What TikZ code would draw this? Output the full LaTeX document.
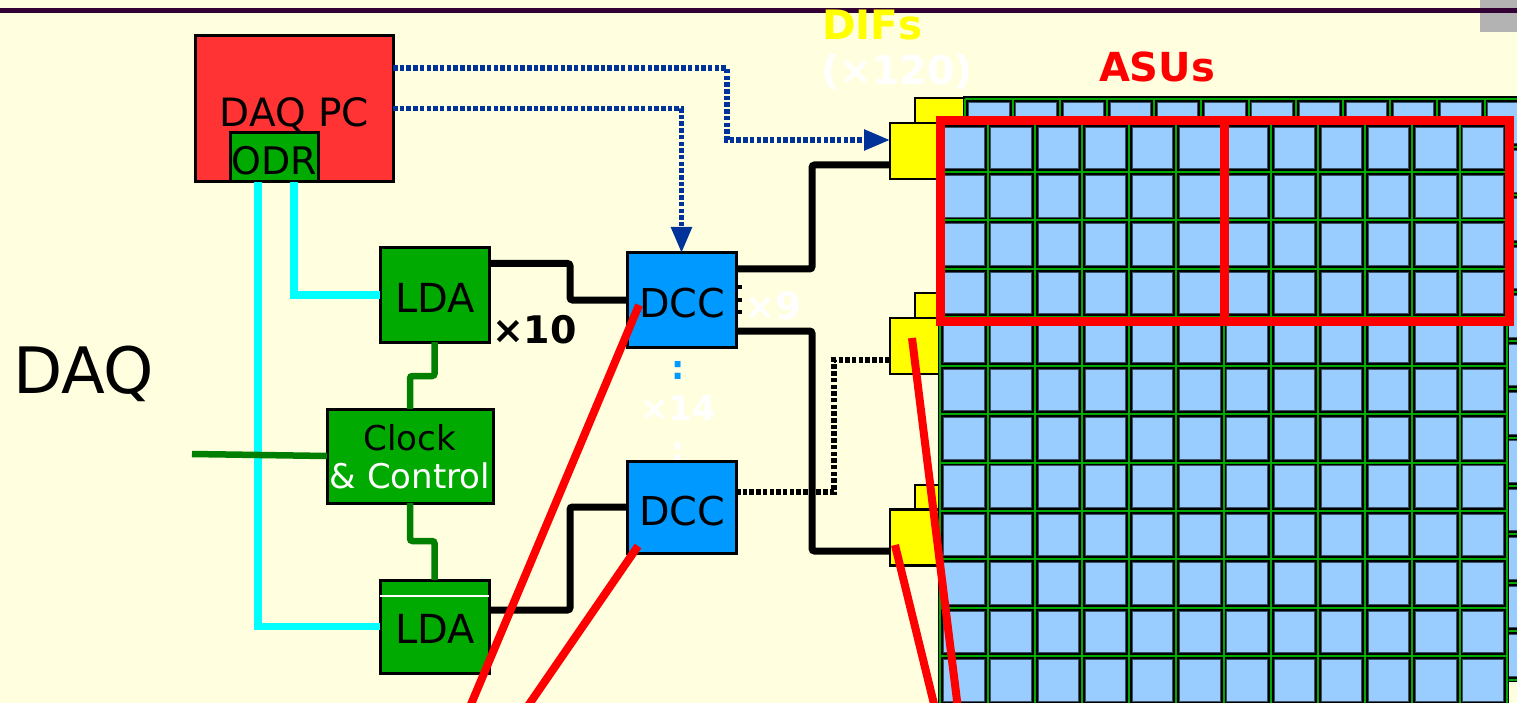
\documentclass[tikz,border=0pt]{standalone}
\usepackage{fontspec}
\setmainfont{DejaVu Sans}
\usetikzlibrary{arrows.meta}
\definecolor{bgc}{HTML}{FFFFE0}
\definecolor{daqred}{HTML}{FF3333}
\definecolor{boxgreen}{HTML}{00AA00}
\definecolor{dccblue}{HTML}{0099FF}
\definecolor{linegreen}{HTML}{007F00}
\definecolor{navy}{HTML}{003399}
\definecolor{cellblue}{HTML}{99CCFF}
\definecolor{celledge}{HTML}{3A4E66}
\definecolor{gridgreen}{HTML}{00AA00}
\definecolor{topline}{HTML}{330033}
\definecolor{greybox}{HTML}{B3B3B3}
\definecolor{brightcyan}{HTML}{00FFFF}
\definecolor{difyellow}{HTML}{FFFF00}
\definecolor{brightred}{HTML}{FF0000}
\newcommand\fsz[1]{\fontsize{#1}{#1}\selectfont}
\newcommand\asugrid[2]{%
  \fill[black] (#1-2.5,#2-2.5) rectangle (#1+568.9,#2+583.3);
  \foreach \k in {0,...,12}{%
    \draw[gridgreen,line width=2pt] (#1+\k*47.2,#2) -- (#1+\k*47.2,#2+580.8);
    \draw[gridgreen,line width=2pt] (#1,#2+\k*48.4) -- (#1+566.4,#2+\k*48.4);
  }%
  \foreach \i in {0,...,11}{\foreach \j in {0,...,11}{%
    \filldraw[fill=cellblue,draw=celledge,line width=1pt] (#1+\i*47.2+3.4,#2+\j*48.4+3.4) rectangle (#1+\i*47.2+43.8,#2+\j*48.4+45);
  }}%
}
\tikzset{
  box/.style={draw=black,line width=3pt,inner sep=0pt,outer sep=0pt},
  difbox/.style={draw=black,line width=2.5pt,fill=difyellow,inner sep=0pt,outer sep=0pt,minimum width=50pt,minimum height=56pt},
  txt/.style={inner sep=0pt,outer sep=0pt,anchor=base},
  bluedot/.style={navy,line width=5.5pt,dash pattern=on 4.5pt off 2.2pt},
  blackdot/.style={black,line width=5.5pt,dash pattern=on 4.5pt off 2.2pt},
  blackline/.style={black,line width=7pt,rounded corners=2.5pt},
  cyanline/.style={brightcyan,line width=7.5pt},
  gline/.style={linegreen,line width=6.5pt,rounded corners=2.5pt},
  redline/.style={brightred,line width=8pt},
  bluetip/.style={-{Triangle[length=26pt,width=20pt]}},
}
\begin{document}
\begin{tikzpicture}[x=1pt,y=-1pt]
\clip (0,0) rectangle (1517,703);
\fill[bgc] (0,0) rectangle (1517,703);
\fill[greybox] (1480,0) rectangle (1517,32);
\draw[topline,line width=5pt] (0,10.5) -- (1517,10.5);

% back layer
\node[difbox] (dif1b) at (940,126) {};
\node[difbox] (dif2b) at (940,321) {};
\node[difbox] (dif3b) at (940,513) {};
\asugrid{965.3}{98.7}
% front layer
\node[difbox] (dif1f) at (915,151) {};
\node[difbox] (dif2f) at (915,346) {};
\node[difbox] (dif3f) at (915,537.5) {};
\asugrid{940.3}{123.7}
\draw[brightred,line width=9pt,line join=miter] (940,121) rectangle (1509,321);
\draw[brightred,line width=9pt] (1224.5,121) -- (1224.5,321);

% boxes
\node[box,fill=daqred,minimum width=198pt,minimum height=146pt] (daqpc) at (294,109) {};
\node[box,fill=boxgreen,minimum width=88pt,minimum height=49pt] (odr) at (274,157.5) {};
\node[box,fill=boxgreen,minimum width=109pt,minimum height=94pt] (lda1) at (434.5,295) {};
\node[box,fill=boxgreen,minimum width=109pt,minimum height=93pt] (lda2) at (434.5,626.5) {};
\draw[white,line width=1.2pt] (lda2.west |- 0,596) -- (lda2.east |- 0,596);
\node[box,fill=boxgreen,minimum width=166pt,minimum height=94pt] (clock) at (410,456) {};
\node[box,fill=dccblue,minimum width=109pt,minimum height=94pt] (dcc1) at (681.5,300) {};

% connectors
\draw[bluedot,bluetip] (daqpc.east |- 0,68) -| (727,140) -- (dif1f.west |- 0,140);
\draw[bluedot,bluetip] (daqpc.east |- 0,108.5) -| (dcc1.north);
\draw[cyanline] (odr.south -| 258,0) |- (lda2.west);
\draw[cyanline] (odr.south -| 294,0) |- (lda1.west);
\coordinate (gin) at (192,454);
\draw[gline] (gin) -- (clock.west);
\draw[gline] (lda1.south) -- ++(0,34) -| (clock.north);
\draw[gline] (clock.south) -- ++(0,38) -| (lda2.north);
\draw[blackline] (lda1.east |- 0,263.5) -| (570,300) -- (dcc1.west);
\draw[blackline] (dcc1.east |- 0,269) -| (812,165) -- (dif1f.west |- 0,165);
\draw[blackline] (dcc1.east |- 0,331) -| (812,551) -- (dif3f.west |- 0,551);
\foreach \yy in {287,300,312}{\draw[black,line width=3.5pt] (dcc1.east |- 0,\yy) -- ++(6,0);}

% stacking labels
\node[txt,text=dccblue,font=\bfseries\fsz{33}] (dots1) at (678,379) {:};
\node[txt,text=white,font=\bfseries\fsz{34}] (times14) at (678,420) {×14};
\node[txt,text=white,font=\bfseries\fsz{33}] (dots2) at (678,461) {:};

\node[box,fill=dccblue,minimum width=109pt,minimum height=92pt] (dcc2) at (681.5,507) {};
\draw[blackline] (lda2.east |- 0,610) -| (570,507) -- (dcc2.west);
\draw[blackdot] (dcc2.east |- 0,492) -| (834,360) -- (dif2f.west |- 0,360);

% texts
\node[txt,font=\fsz{39}] (tdaqpc) at (294.5,127) {DAQ PC};
\node[txt,font=\fsz{38}] (todr) at (274.5,175) {ODR};
\node[txt,anchor=base west,font=\fsz{64}] (tdaq) at (13,393) {DAQ};
\node[txt,font=\fsz{40}] (tlda1) at (435,312) {LDA};
\node[txt,font=\fsz{40}] (tlda2) at (435,643) {LDA};
\node[txt,anchor=base west,font=\bfseries\fsz{38}] (t10) at (492,343) {×10};
\node[txt,font=\fsz{39.7}] (tdcc1) at (682,317) {DCC};
\node[txt,font=\fsz{39.7}] (tdcc2) at (682,525) {DCC};
\node[txt,anchor=base west,text=white,font=\bfseries\fsz{37.5}] (t9) at (744,319) {×9};
\node[txt,font=\fsz{34.2}] (tclock) at (410,450) {Clock};
\node[txt,text=white,font=\fsz{34}] (tctrl) at (410,488) {\& Control};
\node[txt,anchor=base west,text=difyellow,font=\bfseries\fsz{40.5}] (tdifs) at (822,40) {DIFs};
\node[txt,anchor=base west,text=white,font=\bfseries\fsz{39.5}] (t120) at (821,85) {(×120)};
\node[txt,anchor=base west,text=brightred,font=\bfseries\fsz{40}] (tasus) at (1099,82) {ASUs};

% red lines
\coordinate (r1a) at (639,305); \coordinate (r1b) at (464.4,720);
\coordinate (r2a) at (638,546); \coordinate (r2b) at (518.3,720);
\coordinate (r3a) at (912,338); \coordinate (r3b) at (959.4,720);
\coordinate (r4a) at (895,545); \coordinate (r4b) at (937.9,720);
\draw[redline] (r1a) -- (r1b);
\draw[redline] (r2a) -- (r2b);
\draw[redline] (r3a) -- (r3b);
\draw[redline] (r4a) -- (r4b);
\end{tikzpicture}
\end{document}
